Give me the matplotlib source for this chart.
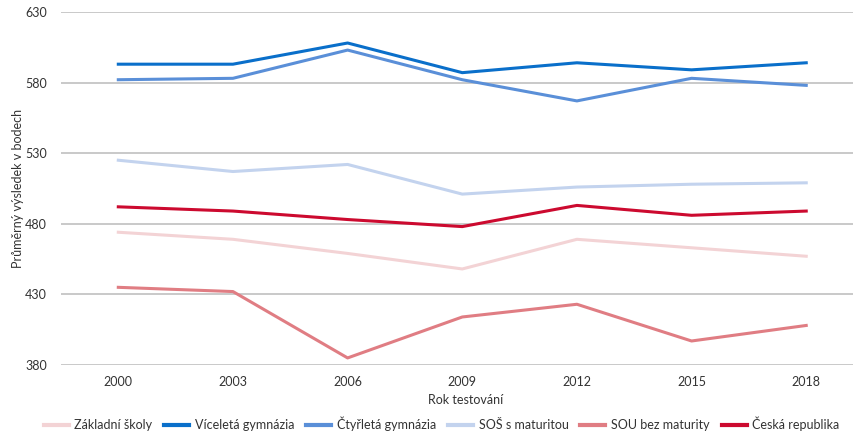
import matplotlib
matplotlib.use('Agg')
import matplotlib.pyplot as plt

plt.rcParams['font.family'] = ['Lato', 'DejaVu Sans']

# === DATA ===
years = [2000, 2003, 2006, 2009, 2012, 2015, 2018]
zakladni = [474, 469, 459, 448, 469, 463, 457]
vicelete = [593, 593, 608, 587, 594, 589, 594]
ctyrlete = [582, 583, 603, 582, 567, 583, 578]
sos_mat = [525, 517, 522, 501, 506, 508, 509]
sou_bez = [435, 432, 385, 414, 423, 397, 408]
cr = [492, 489, 483, 478, 493, 486, 489]

series = [
    ('Základní školy', zakladni, '#F3D3D5'),
    ('Víceletá gymnázia', vicelete, '#0A6FCA'),
    ('Čtyřletá gymnázia', ctyrlete, '#5A8FD8'),
    ('SOŠ s maturitou', sos_mat, '#C3D3EE'),
    ('SOU bez maturity', sou_bez, '#E07D83'),
    ('Česká republika', cr, '#CC0A2F'),
]

fig = plt.figure(figsize=(8.54, 4.34), dpi=100)
ax = fig.add_axes([0.0714, 0.159, 0.9286, 0.8135])

for label, vals, color in series:
    ax.plot(years, vals, color=color, linewidth=2.2, label=label)

ax.set_ylim(380, 630)
ax.set_yticks([380, 430, 480, 530, 580, 630])
ax.set_xlim(1998.5, 2019.25)
ax.set_xticks(years)

ax.grid(axis='y', color='#BBBBBB', linewidth=1.1)
ax.set_axisbelow(True)
for s in ax.spines.values():
    s.set_visible(False)
ax.tick_params(length=0, labelsize=9, colors='#333333')
ax.tick_params(axis='y', pad=10)
ax.tick_params(axis='x', pad=8)

ax.set_xlabel('Rok testování', fontsize=9, color='#333333')
ax.xaxis.set_label_coords(0.5105, -0.082)
ax.set_ylabel('Průměrný výsledek v bodech', fontsize=9, color='#333333')
ax.yaxis.set_label_coords(-0.047, 0.5)

leg = fig.legend(loc='lower center', bbox_to_anchor=(0.517, -0.02), ncol=6,
                 frameon=False, fontsize=9, handlelength=2.0,
                 columnspacing=0.95, handletextpad=0.45)
for t in leg.get_texts():
    t.set_color('#333333')
for h in leg.get_lines():
    h.set_linewidth(3)

fig.savefig('out.png', dpi=100)
